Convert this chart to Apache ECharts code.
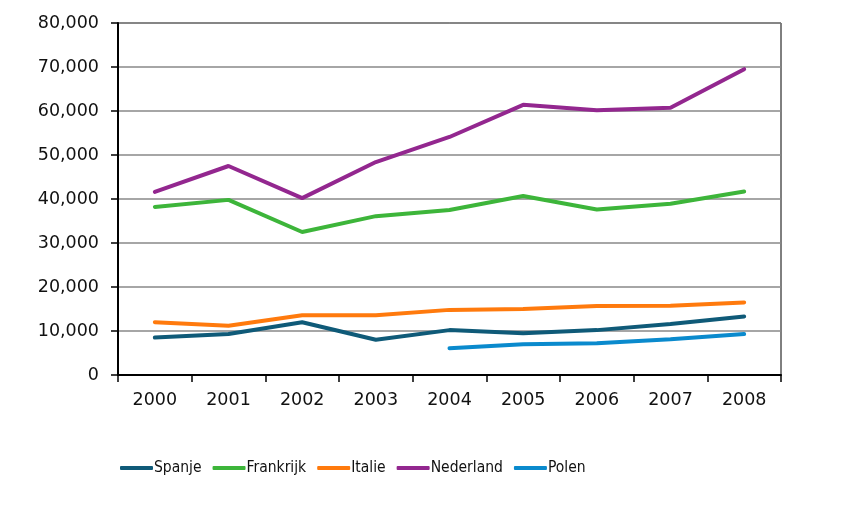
<!DOCTYPE html>
<html>
<head>
<meta charset="utf-8">
<script src="https://cdn.jsdelivr.net/npm/echarts@6/dist/echarts.min.js"></script>
<style>
  html, body { margin: 0; padding: 0; background: #fff; }
  #main { width: 847px; height: 508px; }
</style>
</head>
<body>
<div id="main"></div>
<script>
var years = ['2000', '2001', '2002', '2003', '2004', '2005', '2006', '2007', '2008'];
var spanje = [8500, 9300, 12000, 8000, 10200, 9500, 10200, 11600, 13300];
var frankrijk = [38200, 39800, 32500, 36100, 37500, 40700, 37600, 38900, 41700];
var italie = [12000, 11200, 13600, 13600, 14800, 15000, 15700, 15750, 16500];
var nederland = [41600, 47500, 40200, 48400, 54100, 61400, 60150, 60750, 69500];
var polen = [null, null, null, null, 6100, 7000, 7200, 8100, 9300];

var seriesNames = ['Spanje', 'Frankrijk', 'Italie', 'Nederland', 'Polen'];
var seriesColors = ['#0f5a78', '#3db53a', '#ff7a0d', '#93278f', '#0a8acd'];
var seriesData = [spanje, frankrijk, italie, nederland, polen];

function makeSeries() {
    var list = [];
    for (var i = 0; i < seriesNames.length; i++) {
        list.push({
            name: seriesNames[i],
            type: 'line',
            data: seriesData[i],
            symbol: 'none',
            lineStyle: { width: 4, color: seriesColors[i], cap: 'round' },
            itemStyle: { color: seriesColors[i] }
        });
    }
    return list;
}

var chart = echarts.init(document.getElementById('main'), null, { renderer: 'canvas' });

var option = {
    animation: false,
    grid: {
        left: 118,
        right: 66,
        top: 23,
        bottom: 133,
        show: true,
        borderColor: '#000',
        borderWidth: 1
    },
    legend: {
        data: seriesNames,
        left: 115,
        top: 455,
        icon: 'roundRect',
        itemWidth: 33,
        itemHeight: 4,
        itemGap: 11,
        textStyle: {
            fontFamily: '"Liberation Sans Narrow", "DejaVu Sans Condensed", sans-serif',
            fontSize: 15.5,
            color: '#111',
            padding: [0, 0, 0, -4]
        }
    },
    xAxis: {
        type: 'category',
        data: years,
        boundaryGap: true,
        axisLine: { lineStyle: { color: '#000', width: 2 } },
        axisTick: { show: true, length: 7, lineStyle: { color: '#000', width: 1.5 } },
        axisLabel: {
            fontFamily: '"DejaVu Sans", sans-serif',
            fontSize: 17.5,
            color: '#111',
            margin: 16
        },
        splitLine: { show: false }
    },
    yAxis: {
        type: 'value',
        min: 0,
        max: 80000,
        interval: 10000,
        axisLine: { show: true, lineStyle: { color: '#000', width: 2 } },
        axisTick: { show: true, length: 7, lineStyle: { color: '#000', width: 1.5 } },
        axisLabel: {
            fontFamily: '"DejaVu Sans", sans-serif',
            fontSize: 17.5,
            color: '#111',
            margin: 19,
            formatter: function (v) {
                return v.toLocaleString('en-US');
            }
        },
        splitLine: { show: true, lineStyle: { color: '#888', width: 1.5 } }
    },
    series: makeSeries()
};

chart.setOption(option);
</script>
</body>
</html>
